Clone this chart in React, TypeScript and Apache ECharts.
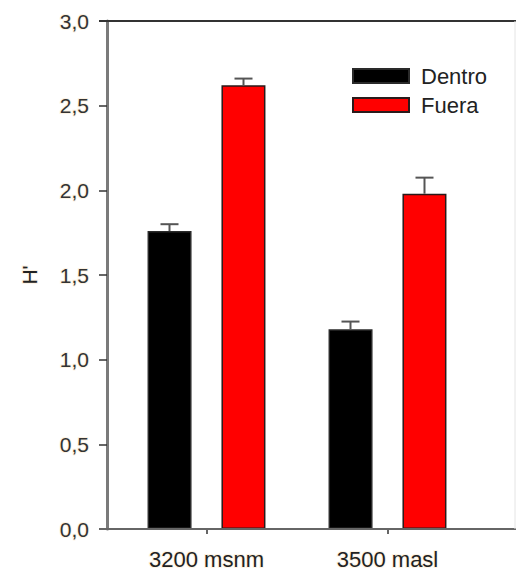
import React, { useEffect, useRef } from "react";
import * as echarts from "echarts";

const categories = ["3200 msnm", "3500 masl"];
const dentro = [1.76, 1.18];
const fuera = [2.62, 1.98];
const dentroErr = [0.04, 0.045];
const fueraErr = [0.04, 0.095];
const yTicks = [0, 0.5, 1.0, 1.5, 2.0, 2.5, 3.0];

const FONT = "Liberation Sans, Arial, sans-serif";
const HALO = "#fdf3e3";

export default function App() {
  const ref = useRef<HTMLDivElement>(null);
  useEffect(() => {
    if (!ref.current) return;
    const chart = echarts.init(ref.current, undefined, { renderer: "svg" });
    const barOffset = 37;
    const errSeries = (vals: number[], errs: number[], off: number, name: string) => ({
      type: "custom",
      name,
      z: 5,
      silent: true,
      data: vals.map((v, i) => [i, v, v + errs[i]]),
      renderItem: (params: any, api: any) => {
        const base = api.coord([api.value(0), api.value(1)]);
        const top = api.coord([api.value(0), api.value(2)]);
        const x = base[0] + off;
        return {
          type: "group",
          children: [
            { type: "line", shape: { x1: x, y1: base[1], x2: x, y2: top[1] }, style: { stroke: "#555", lineWidth: 2 } },
            { type: "line", shape: { x1: x - 9, y1: top[1], x2: x + 9, y2: top[1] }, style: { stroke: "#555", lineWidth: 2 } },
          ],
        };
      },
    });
    chart.setOption({
      animation: false,
      backgroundColor: "#ffffff",
      grid: { left: 116, top: 21, width: 362, bottom: 46 },
      legend: {
        orient: "vertical",
        left: 347,
        top: 60,
        icon: "rect",
        itemWidth: 56,
        itemHeight: 14,
        itemGap: 7,
        data: ["Dentro", "Fuera"],
        textStyle: { fontFamily: FONT, fontSize: 22, color: "#222", lineHeight: 22, padding: [0, 0, 0, 7] },
      },
      xAxis: {
        type: "category",
        data: categories,
        axisLine: { show: false },
        axisTick: { show: true, alignWithLabel: true, length: 5, lineStyle: { color: "#666", width: 2 } },
        axisLabel: {
          fontFamily: FONT,
          fontSize: 22,
          color: "#222",
          margin: 19,
          textBorderColor: HALO,
          textBorderWidth: 2,
        },
        splitLine: { show: false },
      },
      yAxis: {
        type: "value",
        min: 0,
        max: 3,
        interval: 0.5,
        offset: 9,
        name: "H'",
        nameLocation: "middle",
        nameRotate: 90,
        nameGap: 67,
        nameTextStyle: { fontFamily: FONT, fontSize: 21, color: "#222", textBorderColor: HALO, textBorderWidth: 2 },
        axisLine: { show: true, lineStyle: { color: "#7a7a7a", width: 3 } },
        axisTick: { show: true, inside: false, length: 8, lineStyle: { color: "#333", width: 1.5 } },
        axisLabel: {
          fontFamily: FONT,
          fontSize: 21,
          color: "#333",
          margin: 18,
          textBorderColor: HALO,
          textBorderWidth: 2,
          formatter: (v: number) => (yTicks.includes(v) ? v.toFixed(1).replace(".", ",") : ""),
        },
        splitLine: { show: false },
      },
      series: [
        {
          type: "bar",
          name: "Dentro",
          data: dentro,
          barWidth: 44,
          barGap: "68%",
          itemStyle: { color: "#000000", borderColor: "#2a2a2a", borderWidth: 1.5 },
        },
        {
          type: "bar",
          name: "Fuera",
          data: fuera,
          barWidth: 44,
          barGap: "68%",
          itemStyle: { color: "#ff0000", borderColor: "#2a1a1a", borderWidth: 1.5 },
        },
        errSeries(dentro, dentroErr, -barOffset, "errD"),
        errSeries(fuera, fueraErr, barOffset, "errF"),
      ],
      graphic: [
        { type: "line", z: 10, shape: { x1: 99, y1: 529, x2: 516, y2: 529 }, style: { stroke: "#666", lineWidth: 2 } },
        { type: "line", z: 10, shape: { x1: 99, y1: 21, x2: 516, y2: 21 }, style: { stroke: "#333", lineWidth: 2 } },
        { type: "line", z: 10, shape: { x1: 515, y1: 21, x2: 515, y2: 529 }, style: { stroke: "#e4e4e4", lineWidth: 1 } },
      ],
    });
    return () => chart.dispose();
  }, []);
  return <div ref={ref} style={{ width: 516, height: 575, position: "absolute", left: 0, top: 0 }} />;
}
